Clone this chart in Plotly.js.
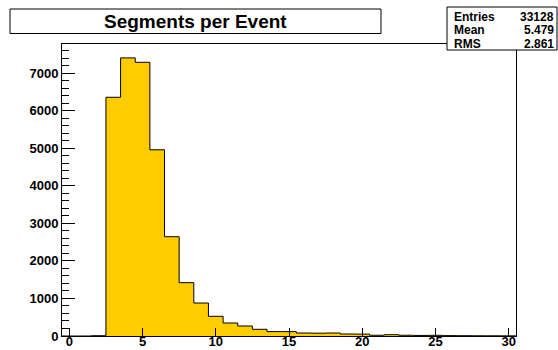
<!DOCTYPE html>
<html>
<head>
<meta charset="utf-8">
<script src="https://cdn.plot.ly/plotly-3.0.1.min.js"></script>
<style>html,body{margin:0;padding:0;background:#fff;}#chart{width:558px;height:350px;}</style>
</head>
<body>
<div id="chart"></div>
<script>
// Data (bin centres and counts)
var binCenters = [0,1,2,3,4,5,6,7,8,9,10,11,12,13,14,15,16,17,18,19,20,21,22,23,24,25,26,27,28,29,30];
var binCounts  = [0,0,8,6356,7404,7287,4957,2643,1420,878,524,346,266,178,117,117,80,75,80,53,50,20,35,20,15,18,10,8,6,5,4];
var binWidth = 1;
var chartTitle = "Segments per Event";
var statLabels = ["Entries","Mean","RMS"];
var statValues = ["33128","5.479","2.861"];
var xTickVals = [0,5,10,15,20,25,30];
var yTickVals = [0,1000,2000,3000,4000,5000,6000,7000];

// Build step outline from bin edges
var edgesX = binCenters.map(function(c){return c - binWidth/2;});
var stepY = binCounts.slice();
edgesX.push(binCenters[binCenters.length-1] + binWidth/2);
stepY.push(binCounts[binCounts.length-1]);

var W = 558, H = 350;
var mL = 62, mR = 42, mT = 44, mB = 14;
var pw = W - mL - mR, ph = H - mT - mB;
function px(x){ return (x - mL)/pw; }
function py(y){ return (H - mB - y)/ph; }

var font = "'Liberation Sans', Arial, Helvetica, sans-serif";

var trace = {
  x: edgesX, y: stepY, type: 'scatter', mode: 'lines',
  line: {shape: 'hv', color: '#000', width: 1},
  fill: 'tozeroy', fillcolor: '#ffcc00',
  hoverinfo: 'skip'
};

var maxY = Math.max.apply(null, binCounts) * 1.05;

var shapes = [
  // title box
  {type:'rect', xref:'paper', yref:'paper', x0:px(10), x1:px(381), y0:py(33.5), y1:py(9),
   line:{color:'#000', width:1}, fillcolor:'#fff', layer:'above'},
  // stats box
  {type:'rect', xref:'paper', yref:'paper', x0:px(447), x1:px(557), y0:py(50), y1:py(7),
   line:{color:'#000', width:1}, fillcolor:'#fff', layer:'above'}
];

var annotations = [
  {text:'<b>'+chartTitle+'</b>', xref:'paper', yref:'paper', x:px(195.5), y:py(21.5),
   xanchor:'center', yanchor:'middle', showarrow:false,
   font:{family:font, size:19, color:'#000'}}
];
var rowY = [17, 30, 43.5];
for (var i=0;i<statLabels.length;i++){
  annotations.push({text:'<b>'+statLabels[i]+'</b>', xref:'paper', yref:'paper', x:px(452), y:py(rowY[i]),
    xanchor:'left', yanchor:'middle', showarrow:false, font:{family:font, size:12, color:'#000'}});
  annotations.push({text:'<b>'+statValues[i]+'</b>', xref:'paper', yref:'paper', x:px(556), y:py(rowY[i]),
    xanchor:'right', yanchor:'middle', showarrow:false, font:{family:font, size:12, color:'#000'}});
}

var layout = {
  width: W, height: H,
  margin: {l:mL, r:mR, t:mT, b:mB, pad:0},
  paper_bgcolor:'#fff', plot_bgcolor:'#fff',
  showlegend:false,
  xaxis: {
    range:[edgesX[0], edgesX[edgesX.length-1]],
    tickmode:'array', tickvals:xTickVals, ticktext:xTickVals.map(String),
    ticks:'inside', ticklen:8, tickwidth:1, tickcolor:'#000',
    ticklabelstandoff:-7,
    showline:true, mirror:true, linecolor:'#000', linewidth:1,
    showgrid:false, zeroline:false, fixedrange:true,
    tickfont:{family:font, size:13, color:'#000', weight:'bold'}
  },
  yaxis: {
    range:[0, maxY],
    tickmode:'array', tickvals:yTickVals, ticktext:yTickVals.map(String),
    ticks:'inside', ticklen:13, tickwidth:1, tickcolor:'#000',
    minor:{dtick:200, ticks:'inside', ticklen:7, tickwidth:1, tickcolor:'#000', showgrid:false},
    showline:true, mirror:true, linecolor:'#000', linewidth:1,
    showgrid:false, zeroline:false, fixedrange:true,
    tickfont:{family:font, size:13, color:'#000', weight:'bold'}
  },
  shapes: shapes,
  annotations: annotations
};

Plotly.newPlot('chart', [trace], layout, {staticPlot:true, displayModeBar:false});
</script>
</body>
</html>
